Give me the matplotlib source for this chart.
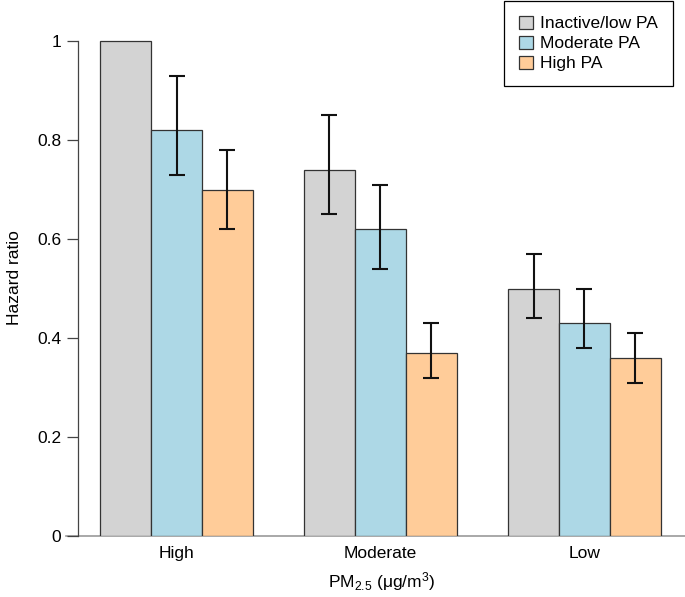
import matplotlib
matplotlib.use('Agg')
import matplotlib.pyplot as plt
import numpy as np

plt.rcParams['font.family'] = ['Liberation Sans', 'DejaVu Sans']
plt.rcParams['font.size'] = 12.5
plt.rcParams['mathtext.fontset'] = 'custom'
plt.rcParams['mathtext.rm'] = 'Liberation Sans'
plt.rcParams['mathtext.default'] = 'regular'

# data
groups = ['High', 'Moderate', 'Low']
series = ['Inactive/low PA', 'Moderate PA', 'High PA']
colors = ['#D3D3D3', '#ADD8E6', '#FFCC99']
hr = [[1.00, 0.82, 0.70],
      [0.74, 0.62, 0.37],
      [0.50, 0.43, 0.36]]
ci_low = [[np.nan, 0.73, 0.62],
          [0.65, 0.54, 0.32],
          [0.44, 0.38, 0.31]]
ci_high = [[np.nan, 0.93, 0.78],
           [0.85, 0.71, 0.43],
           [0.57, 0.50, 0.41]]

W, H = 685, 597
fig = plt.figure(figsize=(W / 100, H / 100), dpi=100)
# plot area: left axis at 78px, y=0 at 536px, y=1 at 41px
y0, y1 = 536, 41
ytop = (y0 - 20) / (y0 - y1)
ax = fig.add_axes([78 / W, (H - y0) / H, 1 - 78 / W, (y0 - 20) / H])

# R style barplot with beside=TRUE: width 1, space 1 between groups
x0 = (78 - 49) / 51
x1 = (685 - 49) / 51
for g in range(3):
    for s in range(3):
        left = 1 + 4 * g + s
        ax.bar(left + 0.5, hr[g][s], width=1, color=colors[s],
               edgecolor='#333333', linewidth=0.9, zorder=2)
        if not np.isnan(ci_low[g][s]):
            ax.errorbar(left + 0.5, hr[g][s],
                        yerr=[[hr[g][s] - ci_low[g][s]], [ci_high[g][s] - hr[g][s]]],
                        fmt='none', ecolor='#111111', elinewidth=1.5,
                        capsize=5.5, capthick=1.5, zorder=3)

ax.set_xlim(x0, x1)
ax.set_ylim(0, ytop)
ax.axhline(0, xmin=-12 / (685 - 78), xmax=1, color='#999999', lw=1.2,
           clip_on=False, zorder=1)

for sp in ['top', 'right', 'bottom']:
    ax.spines[sp].set_visible(False)
ax.spines['left'].set_bounds(0, 1)
ax.spines['left'].set_color('#444444')
ax.spines['left'].set_linewidth(0.9)

ax.set_yticks([0, 0.2, 0.4, 0.6, 0.8, 1])
ax.set_yticklabels(['0', '0.2', '0.4', '0.6', '0.8', '1'])
ax.tick_params(axis='y', length=8, width=0.9, color='#444444', pad=4)
ax.set_xticks([2.5, 6.5, 10.5])
ax.set_xticklabels(groups)
ax.tick_params(axis='x', length=0, pad=7)

ax.set_ylabel('Hazard ratio', labelpad=11)
ax.set_xlabel(r'PM$_{2.5}$ (μg/m$^3$)', labelpad=7)

handles = [plt.Rectangle((0, 0), 1, 1, facecolor=c, edgecolor='#333333', linewidth=0.9)
           for c in colors]
leg = fig.legend(handles, series, loc='upper right',
                 bbox_to_anchor=(673 / W, 1 - 1 / H), fancybox=False,
                 edgecolor='black', framealpha=1, borderpad=0.85,
                 handlelength=0.8, handleheight=0.8, handletextpad=0.45,
                 labelspacing=0.25, borderaxespad=0)
leg.get_frame().set_linewidth(0.9)

fig.savefig('out.png', dpi=100)
